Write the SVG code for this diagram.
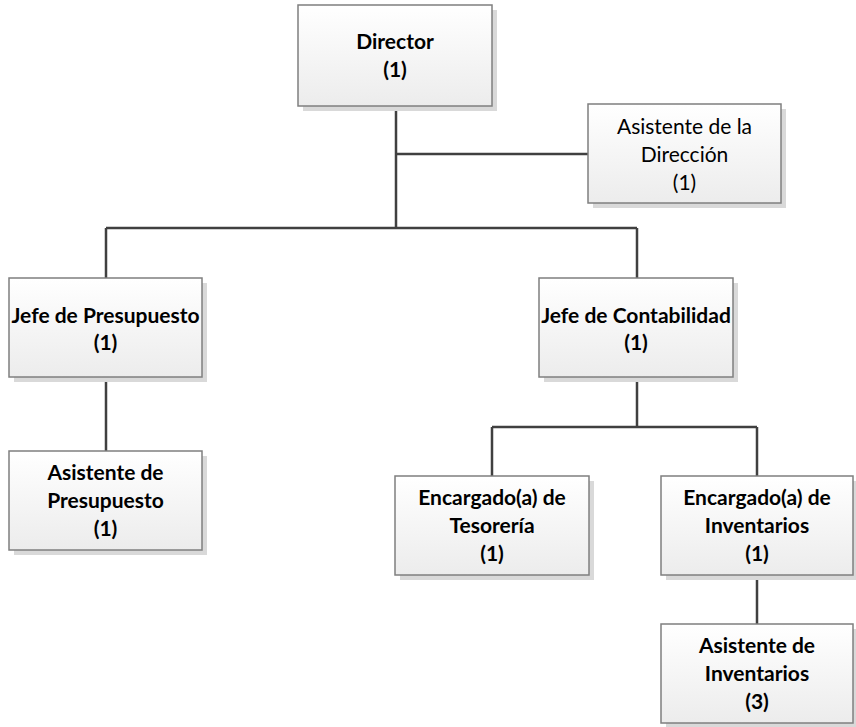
<svg xmlns="http://www.w3.org/2000/svg" width="856" height="727" viewBox="0 0 856 727">
<defs>
<linearGradient id="g" x1="0" y1="0" x2="0" y2="1">
<stop offset="0" stop-color="#ffffff"/>
<stop offset="1" stop-color="#ececec"/>
</linearGradient>
<style>
.box{fill:url(#g);stroke:#7f7f7f;stroke-width:1.5}
.sh{fill:#d9d9d9}
.t{font-family:"Lato","Liberation Sans",sans-serif;font-size:21px;fill:#000;text-anchor:middle}
.b{font-weight:bold}
.c{stroke:#404040;stroke-width:2.5;fill:none}
</style>
</defs>
<rect width="856" height="727" fill="#fff"/>
<g id="connectors">
<path class="c" d="M396 106V228M396 154H588M106 228H637M106 228V278M637 228V278M106 377V451M637 377V427M492 427H757M492 427V476M757 427V476M757 575V624"/>
</g>
<g id="director">
<rect class="sh" x="303" y="10" width="194" height="101"/>
<rect class="box" x="298" y="5" width="194" height="101"/>
<text class="t b" x="395" y="49">Director</text>
<text class="t b" x="395" y="77">(1)</text>
</g>
<g id="asistente-direccion">
<rect class="sh" x="593" y="109" width="193" height="99"/>
<rect class="box" x="588" y="104" width="193" height="99"/>
<text class="t" x="684.5" y="134">Asistente de la</text>
<text class="t" x="684.5" y="162">Dirección</text>
<text class="t" x="684.5" y="190">(1)</text>
</g>
<g id="jefe-presupuesto">
<rect class="sh" x="14" y="283" width="193" height="99"/>
<rect class="box" x="9" y="278" width="193" height="99"/>
<text class="t b" x="105.5" y="323">Jefe de Presupuesto</text>
<text class="t b" x="105.5" y="350">(1)</text>
</g>
<g id="jefe-contabilidad">
<rect class="sh" x="544" y="283" width="194" height="99"/>
<rect class="box" x="539" y="278" width="194" height="99"/>
<text class="t b" x="636" y="323">Jefe de Contabilidad</text>
<text class="t b" x="636" y="350">(1)</text>
</g>
<g id="asistente-presupuesto">
<rect class="sh" x="14" y="456" width="193" height="99"/>
<rect class="box" x="9" y="451" width="193" height="99"/>
<text class="t b" x="105.5" y="480">Asistente de</text>
<text class="t b" x="105.5" y="508">Presupuesto</text>
<text class="t b" x="105.5" y="536">(1)</text>
</g>
<g id="encargado-tesoreria">
<rect class="sh" x="400" y="481" width="194" height="99"/>
<rect class="box" x="395" y="476" width="194" height="99"/>
<text class="t b" x="492" y="505">Encargado(a) de</text>
<text class="t b" x="492" y="533">Tesorería</text>
<text class="t b" x="492" y="561">(1)</text>
</g>
<g id="encargado-inventarios">
<rect class="sh" x="666" y="481" width="192" height="99"/>
<rect class="box" x="661" y="476" width="192" height="99"/>
<text class="t b" x="757" y="505">Encargado(a) de</text>
<text class="t b" x="757" y="533">Inventarios</text>
<text class="t b" x="757" y="561">(1)</text>
</g>
<g id="asistente-inventarios">
<rect class="sh" x="666" y="629" width="192" height="99"/>
<rect class="box" x="661" y="624" width="192" height="99"/>
<text class="t b" x="757" y="653">Asistente de</text>
<text class="t b" x="757" y="681">Inventarios</text>
<text class="t b" x="757" y="709">(3)</text>
</g>
</svg>
